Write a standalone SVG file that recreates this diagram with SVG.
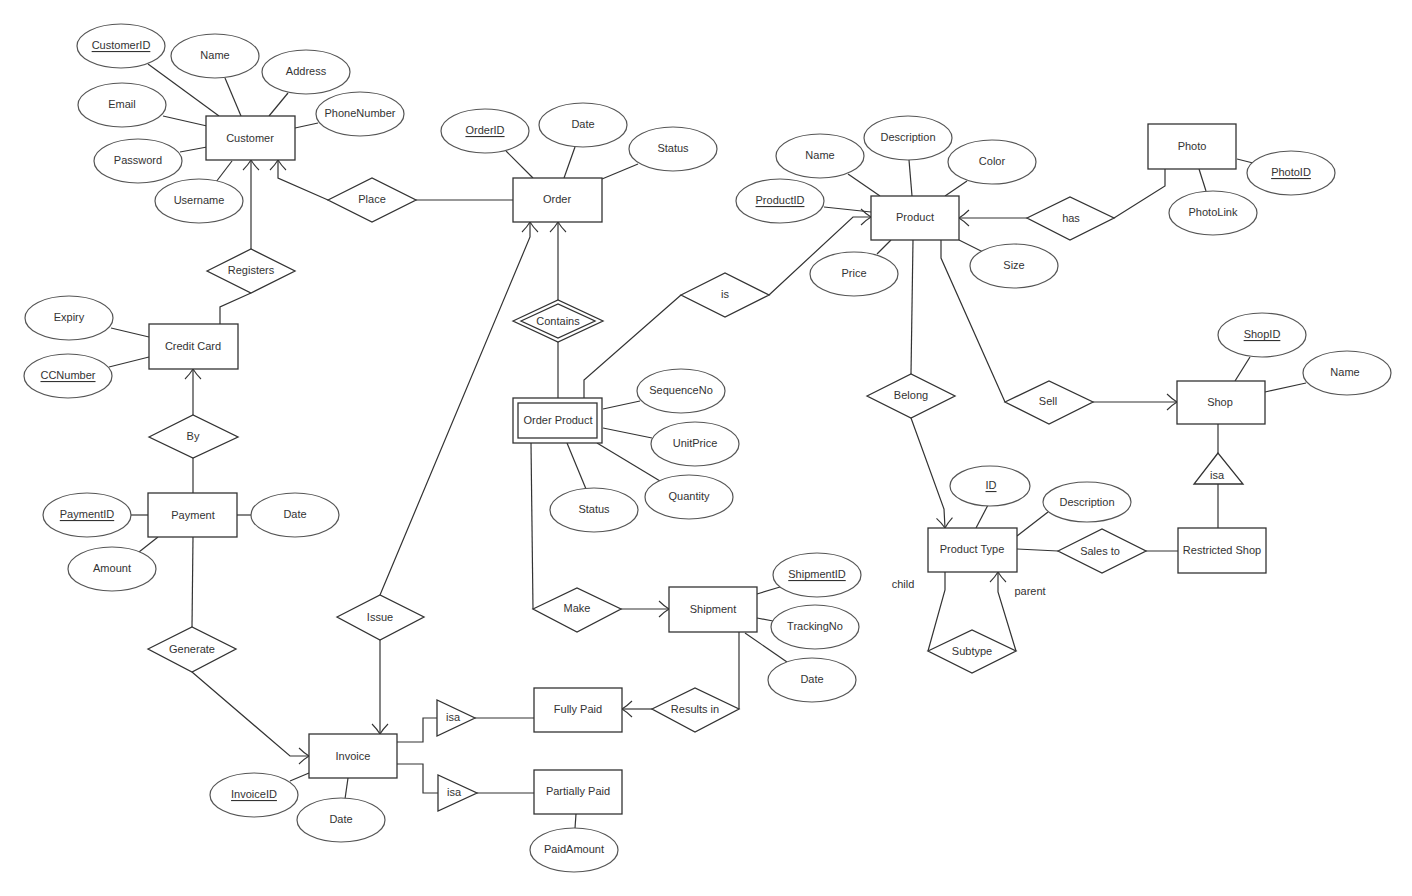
<svg xmlns="http://www.w3.org/2000/svg" width="1412" height="896" viewBox="0 0 1412 896">
<defs>
<style>
.e{fill:#fff;stroke:#555;stroke-width:1.2}
.r{fill:#fff;stroke:#333;stroke-width:1.3}
.d{fill:#fff;stroke:#333;stroke-width:1.3}
.l{fill:none;stroke:#333;stroke-width:1.2}
.a{fill:none;stroke:#333;stroke-width:1.2;marker-end:url(#arr)}
text{font-family:"Liberation Sans",Arial,sans-serif;font-size:11px;fill:#333;text-anchor:middle;dominant-baseline:central}
.u{text-decoration:underline}
</style>
<marker id="arr" viewBox="-12 -10 14 20" refX="0" refY="0" markerWidth="14" markerHeight="20" orient="auto" markerUnits="userSpaceOnUse">
<path d="M-10,-8 Q-5,-3 0,0 Q-5,3 -10,8" fill="none" stroke="#333" stroke-width="1.1"/>
</marker>
</defs>
<rect width="1412" height="896" fill="#fff"/>

<g id="connectors">
<line class="l" x1="148" y1="64" x2="219" y2="116"/>
<line class="l" x1="225" y1="78" x2="241" y2="116"/>
<line class="l" x1="288" y1="93" x2="269" y2="116"/>
<line class="l" x1="163" y1="116" x2="207" y2="126"/>
<line class="l" x1="318" y1="123" x2="295" y2="128"/>
<line class="l" x1="180" y1="152" x2="207" y2="147"/>
<line class="l" x1="216" y1="182" x2="232" y2="161"/>
<polyline class="a" points="251,249 251,160"/>
<polyline class="a" points="328,200 278,178 278,160"/>
<line class="l" x1="416" y1="200" x2="513" y2="200"/>
<polyline class="l" points="251,293 220,307 220,324"/>
<line class="l" x1="111" y1="328" x2="149" y2="337"/>
<line class="l" x1="109" y1="367" x2="149" y2="357"/>
<polyline class="a" points="193,415 193,369"/>
<line class="l" x1="193" y1="458" x2="193" y2="493"/>
<line class="l" x1="131" y1="515" x2="148" y2="515"/>
<line class="l" x1="237" y1="515" x2="251" y2="515"/>
<line class="l" x1="139" y1="552" x2="158" y2="537"/>
<line class="l" x1="193" y1="537" x2="192" y2="627"/>
<polyline class="a" points="192,672 290,756 309,756"/>
<polyline class="a" points="380,640 380,734"/>
<polyline class="a" points="380,595 530,237 530,222"/>
<line class="l" x1="290" y1="781" x2="309" y2="773"/>
<line class="l" x1="348" y1="778" x2="345" y2="799"/>
<polyline class="l" points="397,742 423,742 423,718 437,718"/>
<line class="l" x1="475" y1="718" x2="534" y2="718"/>
<polyline class="l" points="397,764 423,764 423,793 438,793"/>
<line class="l" x1="477" y1="793" x2="534" y2="793"/>
<line class="l" x1="576" y1="814" x2="575" y2="828"/>
<line class="l" x1="506" y1="151" x2="533" y2="178"/>
<line class="l" x1="575" y1="147" x2="564" y2="178"/>
<line class="l" x1="638" y1="164" x2="602" y2="179"/>
<polyline class="a" points="558,300 558,222"/>
<line class="l" x1="558" y1="342" x2="558" y2="398"/>
<line class="l" x1="603" y1="409" x2="640" y2="401"/>
<line class="l" x1="603" y1="428" x2="652" y2="438"/>
<line class="l" x1="597" y1="443" x2="660" y2="481"/>
<line class="l" x1="567" y1="443" x2="586" y2="489"/>
<polyline class="l" points="584,398 584,380 681,295"/>
<polyline class="a" points="769,295 853,217 871,217"/>
<line class="l" x1="824" y1="207" x2="871" y2="212"/>
<line class="l" x1="848" y1="174" x2="880" y2="196"/>
<line class="l" x1="909" y1="160" x2="912" y2="196"/>
<line class="l" x1="967" y1="181" x2="945" y2="196"/>
<line class="l" x1="877" y1="254" x2="891" y2="240"/>
<line class="l" x1="959" y1="240" x2="983" y2="252"/>
<polyline class="a" points="1027,218 959,218"/>
<polyline class="l" points="1114,218 1165,186 1165,169"/>
<line class="l" x1="1237" y1="159" x2="1253" y2="163"/>
<line class="l" x1="1199" y1="169" x2="1206" y2="191"/>
<line class="l" x1="913" y1="240" x2="911" y2="374"/>
<polyline class="a" points="911,418 944,509 945,528"/>
<polyline class="l" points="941,240 941,258 1005,402"/>
<polyline class="a" points="1093,402 1177,402"/>
<line class="l" x1="1250" y1="357" x2="1235" y2="381"/>
<line class="l" x1="1306" y1="383" x2="1265" y2="392"/>
<line class="l" x1="1218" y1="424" x2="1218" y2="453"/>
<line class="l" x1="1218" y1="484" x2="1218" y2="528"/>
<line class="l" x1="1017" y1="549" x2="1058" y2="551"/>
<line class="l" x1="1146" y1="551" x2="1179" y2="551"/>
<line class="l" x1="988" y1="505" x2="976" y2="528"/>
<line class="l" x1="1048" y1="512" x2="1017" y2="536"/>
<polyline class="l" points="945,572 945,590 928,651"/>
<polyline class="a" points="1016,651 998,592 998,572"/>
<line class="l" x1="531" y1="443" x2="533" y2="609"/>
<polyline class="a" points="621,609 669,609"/>
<line class="l" x1="757" y1="594" x2="780" y2="587"/>
<line class="l" x1="757" y1="618" x2="773" y2="621"/>
<line class="l" x1="745" y1="633" x2="787" y2="662"/>
<polyline class="l" points="739,632 739,709"/>
<polyline class="a" points="652,709 622,709"/>
</g>

<g id="customer"><rect class="r" x="206" y="116" width="89" height="44"/><text x="250" y="138">Customer</text></g>
<g id="customer-id"><ellipse class="e" cx="121" cy="46" rx="44" ry="22"/><text class="u" x="121" y="45">CustomerID</text></g>
<g id="customer-name"><ellipse class="e" cx="215" cy="56" rx="44" ry="22"/><text x="215" y="55">Name</text></g>
<g id="customer-address"><ellipse class="e" cx="306" cy="72" rx="44" ry="22"/><text x="306" y="71">Address</text></g>
<g id="customer-email"><ellipse class="e" cx="122" cy="105" rx="44" ry="22"/><text x="122" y="104">Email</text></g>
<g id="customer-phone"><ellipse class="e" cx="360" cy="114" rx="44" ry="22"/><text x="360" y="113">PhoneNumber</text></g>
<g id="customer-password"><ellipse class="e" cx="138" cy="161" rx="44" ry="22"/><text x="138" y="160">Password</text></g>
<g id="customer-username"><ellipse class="e" cx="199" cy="201" rx="44" ry="22"/><text x="199" y="200">Username</text></g>

<g id="place"><polygon class="d" points="328,200 372,178 416,200 372,222"/><text x="372" y="199">Place</text></g>
<g id="registers"><polygon class="d" points="207,271 251,249 295,271 251,293"/><text x="251" y="270">Registers</text></g>

<g id="credit-card"><rect class="r" x="149" y="324" width="89" height="45"/><text x="193" y="346">Credit Card</text></g>
<g id="cc-expiry"><ellipse class="e" cx="69" cy="318" rx="44" ry="22"/><text x="69" y="317">Expiry</text></g>
<g id="cc-number"><ellipse class="e" cx="68" cy="376" rx="44" ry="22"/><text class="u" x="68" y="375">CCNumber</text></g>
<g id="by"><polygon class="d" points="149,437 193,415 238,437 193,458"/><text x="193" y="436">By</text></g>

<g id="payment"><rect class="r" x="148" y="493" width="89" height="44"/><text x="193" y="515">Payment</text></g>
<g id="payment-id"><ellipse class="e" cx="87" cy="515" rx="44" ry="22"/><text class="u" x="87" y="514">PaymentID</text></g>
<g id="payment-date"><ellipse class="e" cx="295" cy="515" rx="44" ry="22"/><text x="295" y="514">Date</text></g>
<g id="payment-amount"><ellipse class="e" cx="112" cy="569" rx="44" ry="22"/><text x="112" y="568">Amount</text></g>
<g id="generate"><polygon class="d" points="148,649 192,627 236,649 192,672"/><text x="192" y="649">Generate</text></g>

<g id="invoice"><rect class="r" x="309" y="734" width="88" height="44"/><text x="353" y="756">Invoice</text></g>
<g id="invoice-id"><ellipse class="e" cx="254" cy="795" rx="44" ry="22"/><text class="u" x="254" y="794">InvoiceID</text></g>
<g id="invoice-date"><ellipse class="e" cx="341" cy="820" rx="44" ry="22"/><text x="341" y="819">Date</text></g>
<g id="issue"><polygon class="d" points="337,617 380,595 424,617 380,640"/><text x="380" y="617">Issue</text></g>
<g id="isa-fully"><polygon class="d" points="437,700 437,736 475,718"/><text x="453" y="717">isa</text></g>
<g id="isa-partial"><polygon class="d" points="438,775 438,811 477,793"/><text x="454" y="792">isa</text></g>
<g id="fully-paid"><rect class="r" x="534" y="688" width="88" height="44"/><text x="578" y="709">Fully Paid</text></g>
<g id="partially-paid"><rect class="r" x="534" y="770" width="88" height="44"/><text x="578" y="791">Partially Paid</text></g>
<g id="paid-amount"><ellipse class="e" cx="574" cy="850" rx="44" ry="22"/><text x="574" y="849">PaidAmount</text></g>

<g id="order"><rect class="r" x="513" y="178" width="89" height="44"/><text x="557" y="199">Order</text></g>
<g id="order-id"><ellipse class="e" cx="485" cy="131" rx="44" ry="22"/><text class="u" x="485" y="130">OrderID</text></g>
<g id="order-date"><ellipse class="e" cx="583" cy="125" rx="44" ry="22"/><text x="583" y="124">Date</text></g>
<g id="order-status"><ellipse class="e" cx="673" cy="149" rx="44" ry="22"/><text x="673" y="148">Status</text></g>
<g id="contains"><polygon class="d" points="513,321 558,300 603,321 558,342"/><polygon class="d" points="521,321 558,304 595,321 558,338"/><text x="558" y="321">Contains</text></g>

<g id="order-product"><rect class="r" x="513" y="398" width="89" height="45"/><rect class="r" x="518" y="403" width="79" height="35"/><text x="558" y="420">Order Product</text></g>
<g id="op-sequence"><ellipse class="e" cx="681" cy="391" rx="44" ry="22"/><text x="681" y="390">SequenceNo</text></g>
<g id="op-unitprice"><ellipse class="e" cx="695" cy="444" rx="44" ry="22"/><text x="695" y="443">UnitPrice</text></g>
<g id="op-quantity"><ellipse class="e" cx="689" cy="497" rx="44" ry="22"/><text x="689" y="496">Quantity</text></g>
<g id="op-status"><ellipse class="e" cx="594" cy="510" rx="44" ry="22"/><text x="594" y="509">Status</text></g>
<g id="make"><polygon class="d" points="533,609 577,588 621,609 577,632"/><text x="577" y="608">Make</text></g>

<g id="shipment"><rect class="r" x="669" y="587" width="88" height="45"/><text x="713" y="609">Shipment</text></g>
<g id="shipment-id"><ellipse class="e" cx="817" cy="575" rx="44" ry="22"/><text class="u" x="817" y="574">ShipmentID</text></g>
<g id="shipment-tracking"><ellipse class="e" cx="815" cy="627" rx="44" ry="22"/><text x="815" y="626">TrackingNo</text></g>
<g id="shipment-date"><ellipse class="e" cx="812" cy="680" rx="44" ry="22"/><text x="812" y="679">Date</text></g>
<g id="results-in"><polygon class="d" points="652,709 695,688 739,709 695,732"/><text x="695" y="709">Results in</text></g>

<g id="is"><polygon class="d" points="681,295 725,273 769,295 725,317"/><text x="725" y="294">is</text></g>

<g id="product"><rect class="r" x="871" y="196" width="88" height="44"/><text x="915" y="217">Product</text></g>
<g id="product-id"><ellipse class="e" cx="780" cy="201" rx="44" ry="22"/><text class="u" x="780" y="200">ProductID</text></g>
<g id="product-name"><ellipse class="e" cx="820" cy="156" rx="44" ry="22"/><text x="820" y="155">Name</text></g>
<g id="product-description"><ellipse class="e" cx="908" cy="138" rx="44" ry="22"/><text x="908" y="137">Description</text></g>
<g id="product-color"><ellipse class="e" cx="992" cy="162" rx="44" ry="22"/><text x="992" y="161">Color</text></g>
<g id="product-price"><ellipse class="e" cx="854" cy="274" rx="44" ry="22"/><text x="854" y="273">Price</text></g>
<g id="product-size"><ellipse class="e" cx="1014" cy="266" rx="44" ry="22"/><text x="1014" y="265">Size</text></g>
<g id="has"><polygon class="d" points="1027,218 1070,197 1114,218 1070,240"/><text x="1071" y="218">has</text></g>

<g id="photo"><rect class="r" x="1148" y="124" width="88" height="45"/><text x="1192" y="146">Photo</text></g>
<g id="photo-id"><ellipse class="e" cx="1291" cy="173" rx="44" ry="22"/><text class="u" x="1291" y="172">PhotoID</text></g>
<g id="photo-link"><ellipse class="e" cx="1213" cy="213" rx="44" ry="22"/><text x="1213" y="212">PhotoLink</text></g>

<g id="belong"><polygon class="d" points="867,396 911,374 955,396 911,418"/><text x="911" y="395">Belong</text></g>
<g id="sell"><polygon class="d" points="1005,402 1049,381 1093,402 1049,424"/><text x="1048" y="401">Sell</text></g>

<g id="shop"><rect class="r" x="1177" y="381" width="88" height="43"/><text x="1220" y="402">Shop</text></g>
<g id="shop-id"><ellipse class="e" cx="1262" cy="335" rx="44" ry="22"/><text class="u" x="1262" y="334">ShopID</text></g>
<g id="shop-name"><ellipse class="e" cx="1347" cy="373" rx="44" ry="22"/><text x="1345" y="372">Name</text></g>
<g id="isa-shop"><polygon class="d" points="1218,453 1194,484 1243,484"/><text x="1217" y="475">isa</text></g>
<g id="restricted-shop"><rect class="r" x="1178" y="528" width="88" height="45"/><text x="1222" y="550">Restricted Shop</text></g>
<g id="sales-to"><polygon class="d" points="1058,551 1102,529 1146,551 1102,573"/><text x="1100" y="551">Sales to</text></g>

<g id="product-type"><rect class="r" x="928" y="528" width="89" height="44"/><text x="972" y="549">Product Type</text></g>
<g id="pt-id"><ellipse class="e" cx="990" cy="486" rx="40" ry="20"/><text class="u" x="991" y="485">ID</text></g>
<g id="pt-description"><ellipse class="e" cx="1087" cy="502" rx="44" ry="20"/><text x="1087" y="502">Description</text></g>
<g id="subtype"><polygon class="d" points="928,651 972,630 1016,651 972,673"/><text x="972" y="651">Subtype</text></g>
<text x="903" y="584">child</text>
<text x="1030" y="591">parent</text>
</svg>
